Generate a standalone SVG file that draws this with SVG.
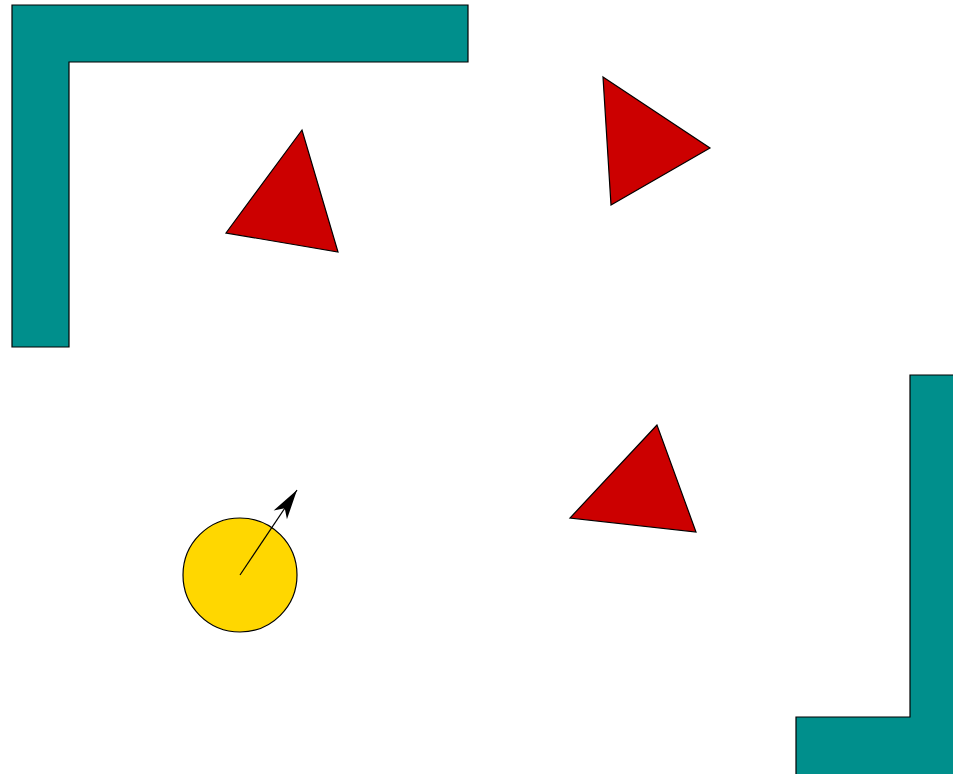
<svg xmlns="http://www.w3.org/2000/svg" width="953" height="774" viewBox="0 0 953 774">
<style>
.wall{fill:#008F8C;stroke:#000;stroke-width:1.2}
.enemy{fill:#CC0000;stroke:#000;stroke-width:1.2;stroke-linejoin:miter}
.player{fill:#FFD700;stroke:#000;stroke-width:1.2}
.dir{stroke:#000;stroke-width:1.2;fill:none}
</style>
<defs>
<marker id="ah" viewBox="-32 -10 33 20" refX="0" refY="0" markerWidth="33" markerHeight="20" markerUnits="userSpaceOnUse" orient="auto">
<path d="M0,0 L-30,-8 L-22,0 L-30,8 Z" fill="#000"/>
</marker>
</defs>
<rect width="953" height="774" fill="#fff"/>
<g id="wall-top-left"><path class="wall" d="M12,5 H468 V62 H69 V347 H12 Z"/></g>
<g id="wall-bottom-right"><path class="wall" d="M910,375 H960 V780 H796 V717 H910 Z"/></g>
<g id="enemy-1"><polygon class="enemy" points="302,130 226,233 338,252"/></g>
<g id="enemy-2"><polygon class="enemy" points="603,77 710,148 611,205"/></g>
<g id="enemy-3"><polygon class="enemy" points="657,425 570,518 696,532"/></g>
<g id="player"><circle class="player" cx="240" cy="575" r="57"/></g>
<g id="connectors"><line class="dir" x1="240" y1="575" x2="297" y2="490" marker-end="url(#ah)"/></g>
</svg>
